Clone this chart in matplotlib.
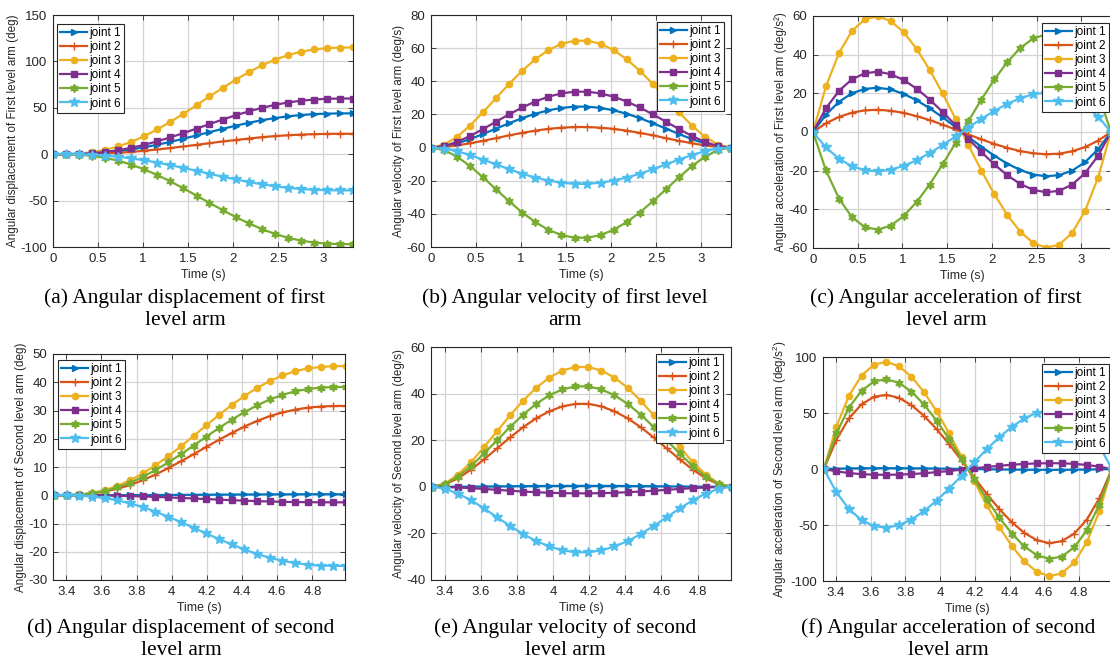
import matplotlib
matplotlib.use("Agg")
import matplotlib.pyplot as plt
from matplotlib.ticker import FuncFormatter

plt.rcParams['font.family'] = ['Liberation Sans', 'DejaVu Sans']
plt.rcParams['mathtext.fontset'] = 'custom'
plt.rcParams['mathtext.rm'] = 'Liberation Sans'

# time samples (first level arm / second level arm)
t1 = [0.0, 0.145, 0.290, 0.434, 0.579, 0.724, 0.869, 1.013, 1.158, 1.303, 1.448, 1.593,
      1.737, 1.882, 2.027, 2.172, 2.317, 2.461, 2.606, 2.751, 2.896, 3.040, 3.185, 3.33]
t2 = [3.330, 3.402, 3.474, 3.547, 3.619, 3.691, 3.763, 3.835, 3.907, 3.980, 4.052, 4.124,
      4.196, 4.268, 4.340, 4.413, 4.485, 4.557, 4.629, 4.701, 4.773, 4.846, 4.918, 4.990]

labels = ['joint 1', 'joint 2', 'joint 3', 'joint 4', 'joint 5', 'joint 6']
colors = ['#0072BD', '#D95319', '#EDB120', '#7E2F8E', '#77AC30', '#4DBEEE']
markers = ['>', '+', 'o', 's', (6, 1, 0), '*']
msizes = [5, 5.5, 4.5, 4.5, 6, 7]

# (a) angular displacement, first level arm (deg)
disp1 = [
    [0.0, 0.0, 0.3, 0.8, 1.8, 3.2, 5.1, 7.4, 10.2, 13.3, 16.7, 20.2, 23.8, 27.3, 30.7, 33.8, 36.6, 38.9, 40.8, 42.2, 43.2, 43.7, 44.0, 44.0],
    [0.0, 0.0, 0.1, 0.4, 0.9, 1.6, 2.5, 3.7, 5.1, 6.7, 8.3, 10.1, 11.9, 13.7, 15.3, 16.9, 18.3, 19.5, 20.4, 21.1, 21.6, 21.9, 22.0, 22.0],
    [0.0, 0.1, 0.7, 2.1, 4.6, 8.3, 13.3, 19.4, 26.7, 34.8, 43.6, 52.8, 62.2, 71.4, 80.2, 88.3, 95.6, 101.7, 106.7, 110.4, 112.9, 114.3, 114.9, 115.0],
    [0.0, 0.0, 0.3, 1.1, 2.4, 4.3, 6.9, 10.1, 13.9, 18.2, 22.7, 27.6, 32.4, 37.3, 41.9, 46.1, 49.9, 53.1, 55.7, 57.6, 58.9, 59.7, 60.0, 60.0],
    [0.0, -0.1, -0.6, -1.8, -3.9, -7.0, -11.2, -16.4, -22.5, -29.3, -36.8, -44.6, -52.4, -60.2, -67.7, -74.5, -80.6, -85.8, -90.0, -93.1, -95.2, -96.4, -96.9, -97.0],
    [0.0, 0.0, -0.2, -0.7, -1.6, -2.8, -4.5, -6.6, -9.0, -11.8, -14.8, -17.9, -21.1, -24.2, -27.2, -30.0, -32.4, -34.5, -36.2, -37.5, -38.3, -38.8, -39.0, -39.0],
]

# (b) angular velocity, first level arm (deg/s)
vel1 = [
    [0.0, 0.7, 2.5, 5.1, 8.2, 11.5, 14.7, 17.8, 20.4, 22.5, 23.9, 24.7, 24.7, 23.9, 22.5, 20.4, 17.8, 14.7, 11.5, 8.2, 5.1, 2.5, 0.7, 0.0],
    [0.0, 0.3, 1.3, 2.6, 4.1, 5.7, 7.4, 8.9, 10.2, 11.3, 12.0, 12.4, 12.4, 12.0, 11.3, 10.2, 8.9, 7.4, 5.7, 4.1, 2.6, 1.3, 0.3, 0.0],
    [0.0, 1.8, 6.5, 13.3, 21.4, 30.0, 38.5, 46.4, 53.3, 58.8, 62.6, 64.5, 64.5, 62.6, 58.8, 53.3, 46.4, 38.5, 30.0, 21.4, 13.3, 6.5, 1.8, 0.0],
    [0.0, 0.9, 3.4, 7.0, 11.2, 15.7, 20.1, 24.2, 27.8, 30.7, 32.7, 33.7, 33.7, 32.7, 30.7, 27.8, 24.2, 20.1, 15.7, 11.2, 7.0, 3.4, 0.9, 0.0],
    [0.0, -1.5, -5.5, -11.2, -18.0, -25.3, -32.5, -39.2, -45.0, -49.6, -52.8, -54.4, -54.4, -52.8, -49.6, -45.0, -39.2, -32.5, -25.3, -18.0, -11.2, -5.5, -1.5, 0.0],
    [0.0, -0.6, -2.2, -4.5, -7.3, -10.2, -13.1, -15.8, -18.1, -19.9, -21.2, -21.9, -21.9, -21.2, -19.9, -18.1, -15.8, -13.1, -10.2, -7.3, -4.5, -2.2, -0.6, 0.0],
]

# (c) angular acceleration, first level arm (deg/s^2)
acc1 = [
    [0.0, 9.0, 15.6, 20.0, 22.3, 22.9, 22.0, 19.7, 16.4, 12.3, 7.6, 2.6, -2.6, -7.6, -12.3, -16.4, -19.7, -22.0, -22.9, -22.3, -20.0, -15.6, -9.0, 0.0],
    [0.0, 4.5, 7.8, 10.0, 11.2, 11.5, 11.0, 9.9, 8.2, 6.2, 3.8, 1.3, -1.3, -3.8, -6.2, -8.2, -9.9, -11.0, -11.5, -11.2, -10.0, -7.8, -4.5, 0.0],
    [0.0, 23.6, 40.8, 52.2, 58.3, 59.8, 57.4, 51.6, 43.0, 32.2, 20.0, 6.8, -6.8, -20.0, -32.2, -43.0, -51.6, -57.4, -59.8, -58.3, -52.2, -40.8, -23.6, 0.0],
    [0.0, 12.3, 21.3, 27.2, 30.4, 31.2, 29.9, 26.9, 22.4, 16.8, 10.4, 3.5, -3.5, -10.4, -16.8, -22.4, -26.9, -29.9, -31.2, -30.4, -27.2, -21.3, -12.3, 0.0],
    [0.0, -19.9, -34.4, -44.0, -49.2, -50.5, -48.4, -43.5, -36.2, -27.2, -16.8, -5.7, 5.7, 16.8, 27.2, 36.2, 43.5, 48.4, 50.5, 49.2, 44.0, 34.4, 19.9, 0.0],
    [0.0, -8.0, -13.8, -17.7, -19.8, -20.3, -19.5, -17.5, -14.6, -10.9, -6.8, -2.3, 2.3, 6.8, 10.9, 14.6, 17.5, 19.5, 20.3, 19.8, 17.7, 13.8, 8.0, 0.0],
]

# (d) angular displacement, second level arm (deg)
disp2 = [
    [0.0, 0.0, 0.0, 0.01, 0.01, 0.03, 0.04, 0.06, 0.08, 0.11, 0.13, 0.16, 0.19, 0.22, 0.24, 0.27, 0.29, 0.31, 0.32, 0.34, 0.34, 0.35, 0.35, 0.35],
    [0.0, 0.0, 0.2, 0.6, 1.3, 2.3, 3.6, 5.3, 7.3, 9.6, 12.0, 14.5, 17.1, 19.6, 22.0, 24.3, 26.3, 28.0, 29.3, 30.3, 31.0, 31.4, 31.6, 31.6],
    [0.0, 0.0, 0.3, 0.8, 1.8, 3.3, 5.3, 7.7, 10.6, 13.8, 17.3, 21.0, 24.7, 28.4, 31.9, 35.1, 38.0, 40.4, 42.4, 43.9, 44.9, 45.4, 45.7, 45.7],
    [0.0, 0.0, -0.01, -0.05, -0.10, -0.18, -0.29, -0.42, -0.58, -0.76, -0.95, -1.15, -1.35, -1.55, -1.74, -1.92, -2.08, -2.21, -2.32, -2.40, -2.45, -2.49, -2.50, -2.50],
    [0.0, 0.0, 0.2, 0.7, 1.5, 2.8, 4.4, 6.5, 8.9, 11.6, 14.5, 17.6, 20.7, 23.8, 26.7, 29.4, 31.8, 33.9, 35.5, 36.8, 37.6, 38.1, 38.3, 38.3],
    [0.0, 0.0, -0.1, -0.5, -1.0, -1.8, -2.9, -4.2, -5.8, -7.6, -9.5, -11.5, -13.5, -15.5, -17.4, -19.2, -20.8, -22.1, -23.2, -24.0, -24.6, -24.9, -25.0, -25.0],
]

# (e) angular velocity, second level arm (deg/s)
vel2 = [
    [0.0, 0.01, 0.04, 0.08, 0.13, 0.18, 0.24, 0.28, 0.33, 0.36, 0.38, 0.39, 0.39, 0.38, 0.36, 0.33, 0.28, 0.24, 0.18, 0.13, 0.08, 0.04, 0.01, 0.0],
    [0.0, 1.0, 3.6, 7.4, 11.8, 16.5, 21.2, 25.6, 29.4, 32.4, 34.5, 35.6, 35.6, 34.5, 32.4, 29.4, 25.6, 21.2, 16.5, 11.8, 7.4, 3.6, 1.0, 0.0],
    [0.0, 1.4, 5.2, 10.6, 17.1, 23.9, 30.7, 37.0, 42.5, 46.9, 49.9, 51.4, 51.4, 49.9, 46.9, 42.5, 37.0, 30.7, 23.9, 17.1, 10.6, 5.2, 1.4, 0.0],
    [0.0, -0.08, -0.28, -0.58, -0.93, -1.31, -1.68, -2.03, -2.32, -2.56, -2.73, -2.81, -2.81, -2.73, -2.56, -2.32, -2.03, -1.68, -1.31, -0.93, -0.58, -0.28, -0.08, 0.0],
    [0.0, 1.2, 4.4, 8.9, 14.3, 20.0, 25.7, 31.0, 35.6, 39.3, 41.8, 43.1, 43.1, 41.8, 39.3, 35.6, 31.0, 25.7, 20.0, 14.3, 8.9, 4.4, 1.2, 0.0],
    [0.0, -0.8, -2.9, -5.8, -9.3, -13.1, -16.8, -20.3, -23.3, -25.6, -27.3, -28.1, -28.1, -27.3, -25.6, -23.3, -20.3, -16.8, -13.1, -9.3, -5.8, -2.9, -0.8, 0.0],
]

# (f) angular acceleration, second level arm (deg/s^2)
acc2 = [
    [0.0, 0.29, 0.50, 0.64, 0.71, 0.73, 0.70, 0.63, 0.53, 0.39, 0.24, 0.08, -0.08, -0.24, -0.39, -0.53, -0.63, -0.70, -0.73, -0.71, -0.64, -0.50, -0.29, 0.0],
    [0.0, 26.1, 45.1, 57.7, 64.5, 66.2, 63.5, 57.0, 47.5, 35.6, 22.1, 7.5, -7.5, -22.1, -35.6, -47.5, -57.0, -63.5, -66.2, -64.5, -57.7, -45.1, -26.1, 0.0],
    [0.0, 37.8, 65.2, 83.4, 93.2, 95.7, 91.7, 82.4, 68.7, 51.5, 31.9, 10.8, -10.8, -31.9, -51.5, -68.7, -82.4, -91.7, -95.7, -93.2, -83.4, -65.2, -37.8, 0.0],
    [0.0, -2.1, -3.6, -4.6, -5.1, -5.2, -5.0, -4.5, -3.8, -2.8, -1.8, -0.6, 0.6, 1.8, 2.8, 3.8, 4.5, 5.0, 5.2, 5.1, 4.6, 3.6, 2.1, 0.0],
    [0.0, 31.7, 54.7, 69.9, 78.2, 80.2, 76.9, 69.1, 57.6, 43.2, 26.7, 9.1, -9.1, -26.7, -43.2, -57.6, -69.1, -76.9, -80.2, -78.2, -69.9, -54.7, -31.7, 0.0],
    [0.0, -20.7, -35.7, -45.6, -51.0, -52.3, -50.2, -45.1, -37.6, -28.2, -17.5, -5.9, 5.9, 17.5, 28.2, 37.6, 45.1, 50.2, 52.3, 51.0, 45.6, 35.7, 20.7, 0.0],
]

xticks1 = [0, 0.5, 1, 1.5, 2, 2.5, 3]
xticks2 = [3.4, 3.6, 3.8, 4.0, 4.2, 4.4, 4.6, 4.8]

ylabels = [
    'Angular displacement of First level arm (deg)',
    'Angular velocity of First level arm (deg/s)',
    'Angular acceleration of First level arm (deg/s\u00b2)',
    'Angular displacement of Second level arm (deg)',
    'Angular velocity of Second level arm (deg/s)',
    r'Angular acceleration of Second level arm (deg/s$^2$)',
]
captions = [
    '(a) Angular displacement of first\nlevel arm',
    '(b) Angular velocity of first level\narm',
    '(c) Angular acceleration of first\nlevel arm',
    '(d) Angular displacement of second\nlevel arm',
    '(e) Angular velocity of second\nlevel arm',
    '(f) Angular acceleration of second\nlevel arm',
]

W, H = 1110, 664
fig = plt.figure(figsize=(W / 100, H / 100), dpi=100)

# layout in pixels: left, right, top, bottom of each axes
boxes = [(53, 353, 15, 247), (431, 731, 15, 247), (813, 1111, 16, 248),
         (53, 345, 354, 580), (431, 731, 347, 580), (823, 1111, 357, 581)]
# legend corner offset (px from axes corner), which side
leg_pos = [('left', 4, 9), ('right', 7, 7), ('right', 2, 7),
           ('left', 5, 6), ('right', 8, 7), ('right', 2, 7)]
cap_x = [185, 565, 946, 181, 565, 948]
cap_y = [309, 309, 309, 639, 639, 639]

panels = [
    (t1, disp1, (-100, 150), range(-100, 151, 50), xticks1, (0, 3.33)),
    (t1, vel1, (-60, 80), range(-60, 81, 20), xticks1, (0, 3.33)),
    (t1, acc1, (-60, 60), range(-60, 61, 20), xticks1, (0, 3.33)),
    (t2, disp2, (-30, 50), range(-30, 51, 10), xticks2, (3.325, 4.985)),
    (t2, vel2, (-40, 60), range(-40, 61, 20), xticks2, (3.325, 4.985)),
    (t2, acc2, (-100, 100), range(-100, 101, 50), xticks2, (3.325, 4.985)),
]

fmt = FuncFormatter(lambda v, p: '%g' % round(v, 2))

for i, (t, series, ylim, yticks, xticks, xlim) in enumerate(panels):
    l, r, tp, b = boxes[i]
    ax = fig.add_axes([l / W, 1 - b / H, (r - l) / W, (b - tp) / H])
    for j in range(6):
        ax.plot(t, series[j], color=colors[j], lw=1.6, marker=markers[j],
                ms=msizes[j], mfc=colors[j], mec=colors[j], mew=1.0,
                label=labels[j])
    ax.set_xlim(*xlim)
    ax.set_ylim(*ylim)
    ax.set_xticks(xticks)
    ax.set_yticks(list(yticks))
    ax.xaxis.set_major_formatter(fmt)
    ax.yaxis.set_major_formatter(fmt)
    ax.grid(True, color='#d4d4d4', lw=0.9)
    ax.set_axisbelow(True)
    ax.tick_params(direction='in', top=True, right=True, length=3.5, width=0.6,
                   labelsize=9.5, colors='#262626', pad=4)
    for s in ax.spines.values():
        s.set_linewidth(0.8)
        s.set_color('#262626')
    ax.set_xlabel('Time (s)', fontsize=8.8, color='#262626', labelpad=3)
    ax.set_ylabel(ylabels[i], fontsize=8.4, color='#262626', labelpad=1)

    # MATLAB style legend box
    side, dx, dy = leg_pos[i]
    w_ax, h_ax = r - l, b - tp
    if side == 'left':
        anchor, loc = (dx / w_ax, 1 - dy / h_ax), 'upper left'
    else:
        anchor, loc = (1 - dx / w_ax, 1 - dy / h_ax), 'upper right'
    leg = ax.legend(loc=loc, bbox_to_anchor=anchor, borderaxespad=0,
                    fontsize=8.5, frameon=True, fancybox=False, framealpha=1,
                    edgecolor='#262626', handlelength=2.3, handletextpad=0.2,
                    labelspacing=0.18, borderpad=0.25)
    leg.get_frame().set_linewidth(0.8)

    fig.text(cap_x[i] / W, 1 - cap_y[i] / H, captions[i], ha='center', va='center',
             multialignment='center', fontsize=15.5, family='Liberation Serif',
             linespacing=1.22, color='black')

fig.savefig('out.png', dpi=100)
